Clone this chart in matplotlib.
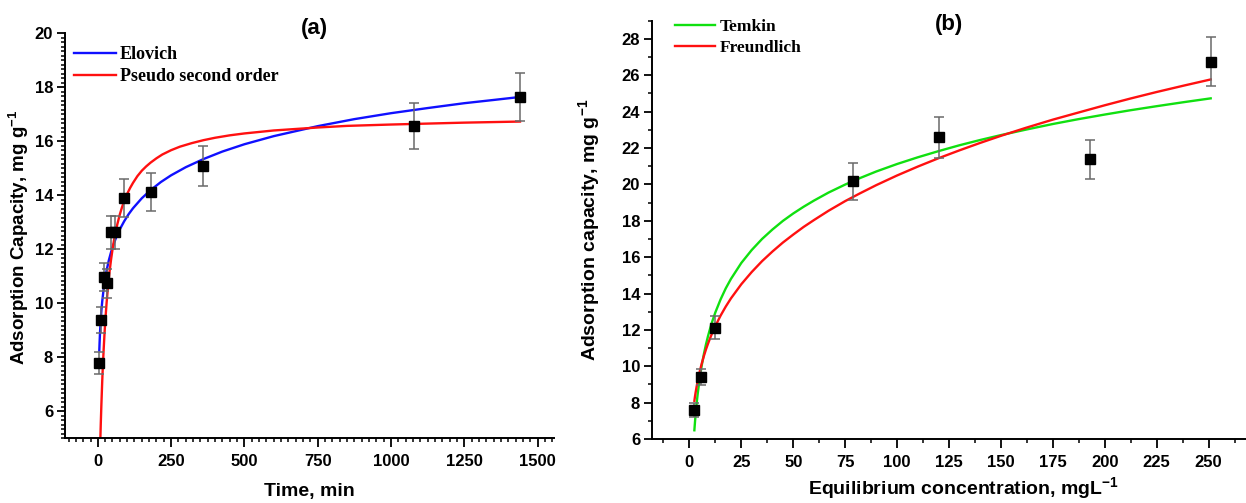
import matplotlib
matplotlib.use("Agg")
import matplotlib.pyplot as plt
from matplotlib.ticker import MultipleLocator

# ---------------- data: panel (a) kinetics ----------------
time_min = [5, 10, 20, 30, 45, 60, 90, 180, 360, 1080, 1440]
q_time = [7.78, 9.37, 10.95, 10.73, 12.62, 12.62, 13.89, 14.11, 15.08, 16.56, 17.63]
q_time_err = [0.40, 0.48, 0.52, 0.53, 0.62, 0.62, 0.70, 0.70, 0.74, 0.84, 0.89]

elovich_t = [5, 6, 7.5, 10, 12.5, 15, 20, 25, 30, 37.5, 45, 52, 60, 75, 90, 105, 120, 150,
             180, 215, 250, 300, 360, 425, 500, 600, 750, 875, 1000, 1125, 1250, 1350, 1440]
elovich_q = [8.24, 8.54, 8.92, 9.39, 9.76, 10.06, 10.54, 10.91, 11.21, 11.58, 11.88, 12.12,
             12.36, 12.73, 13.03, 13.29, 13.51, 13.88, 14.18, 14.48, 14.73, 15.03, 15.33,
             15.61, 15.88, 16.18, 16.55, 16.81, 17.03, 17.22, 17.40, 17.52, 17.63]

pso_t = [8.7, 9.3, 10, 12, 15, 17, 20, 22.5, 25, 27, 30, 35, 40, 45, 50, 55, 60, 67, 75, 82,
         90, 100, 110, 120, 135, 150, 165, 180, 200, 220, 250, 280, 320, 360, 400, 450, 500,
         600, 750, 850, 1000, 1250, 1440]
pso_q = [5.00, 5.24, 5.51, 6.20, 7.11, 7.63, 8.31, 8.81, 9.26, 9.58, 10.02, 10.64, 11.16,
         11.60, 11.98, 12.31, 12.59, 12.94, 13.28, 13.53, 13.78, 14.04, 14.26, 14.45, 14.70,
         14.90, 15.06, 15.20, 15.36, 15.50, 15.66, 15.79, 15.92, 16.03, 16.12, 16.21, 16.28,
         16.39, 16.50, 16.56, 16.61, 16.68, 16.72]

# ---------------- data: panel (b) isotherms ----------------
conc = [2.3, 5.6, 12.5, 78.7, 120.2, 192.7, 251.2]
q_eq = [7.60, 9.41, 12.13, 20.17, 22.59, 21.38, 26.75]
q_eq_err = [0.37, 0.43, 0.62, 1.03, 1.14, 1.07, 1.35]

curve_c = [2.4, 2.7, 3, 3.5, 4, 5, 6, 7, 8, 9, 10, 11, 12.5, 15, 17.5, 20, 25, 30, 35, 40,
           45, 50, 55, 60, 67, 75, 82, 90, 100, 110, 120, 130, 140, 150, 162, 175, 187, 200,
           212, 225, 238, 251]
temkin_q = [6.48, 6.94, 7.36, 7.96, 8.48, 9.36, 10.08, 10.68, 11.21, 11.67, 12.08, 12.46,
            12.96, 13.67, 14.28, 14.80, 15.68, 16.39, 17.00, 17.52, 17.99, 18.40, 18.77,
            19.11, 19.55, 19.99, 20.34, 20.71, 21.12, 21.49, 21.83, 22.15, 22.44, 22.71,
            23.01, 23.32, 23.58, 23.84, 24.07, 24.30, 24.52, 24.73]
freundlich_q = [8.10, 8.34, 8.56, 8.89, 9.19, 9.72, 10.17, 10.57, 10.93, 11.25, 11.55, 11.83,
                12.21, 12.78, 13.28, 13.73, 14.51, 15.18, 15.78, 16.31, 16.80, 17.24, 17.66,
                18.04, 18.55, 19.08, 19.50, 19.96, 20.49, 20.98, 21.44, 21.87, 22.28, 22.67,
                23.11, 23.56, 23.94, 24.35, 24.71, 25.08, 25.43, 25.77]

x_ticks_a = [0, 250, 500, 750, 1000, 1250, 1500]
y_ticks_a = [6, 8, 10, 12, 14, 16, 18, 20]
x_ticks_b = [0, 25, 50, 75, 100, 125, 150, 175, 200, 225, 250]
y_ticks_b = [6, 8, 10, 12, 14, 16, 18, 20, 22, 24, 26, 28]

# ---------------- style ----------------
plt.rcParams['font.family'] = ['Liberation Sans', 'DejaVu Sans']
plt.rcParams['font.weight'] = 'bold'
plt.rcParams['mathtext.default'] = 'regular'

W, H = 1246, 503
fig = plt.figure(figsize=(W / 100, H / 100), dpi=100)

def px_axes(l, t, r, b):
    return fig.add_axes([l / W, 1 - b / H, (r - l) / W, (b - t) / H])

ax1 = px_axes(65, 33, 554, 438)
ax2 = px_axes(652, 20.7, 1246, 439)

for ax in (ax1, ax2):
    ax.spines['top'].set_visible(False)
    ax.spines['right'].set_visible(False)
    for s in ('left', 'bottom'):
        ax.spines[s].set_linewidth(1.4)
    ax.tick_params(which='major', direction='out', length=5.5, width=1.3,
                   labelsize=12, pad=3)
    ax.tick_params(which='minor', direction='out', length=3, width=1.1)
    ax.tick_params(axis='x', which='major', length=6.5, pad=5)

err_kw = dict(fmt='s', color='black', markersize=7, ecolor='#6a6a6a',
              elinewidth=1.1, capsize=3.5, capthick=1.1, zorder=3)

# ---------------- panel (a) ----------------
ax1.plot(elovich_t, elovich_q, color='#1010ff', lw=1.7, label='Elovich', zorder=2)
ax1.plot(pso_t, pso_q, color='#ff1010', lw=1.7, label='Pseudo second order', zorder=2)
ax1.errorbar(time_min, q_time, yerr=q_time_err, **err_kw)
ax1.set_xlim(-112, 1556)
ax1.set_ylim(5, 20)
ax1.set_xticks(x_ticks_a)
ax1.set_yticks(y_ticks_a)
ax1.xaxis.set_minor_locator(MultipleLocator(25))
ax1.yaxis.set_minor_locator(MultipleLocator(2 / 12))
ax1.set_xlabel('Time, min', fontsize=14, fontweight='bold', va='center')
ax1.xaxis.set_label_coords(0.5, -0.133)
ax1.set_ylabel('Adsorption Capacity, mg g$^{-1}$', fontsize=13.5, fontweight='bold',
               va='center')
ax1.yaxis.set_label_coords(-0.094, 0.495)
ax1.text(0.511, 1.01, '(a)', transform=ax1.transAxes, ha='center', va='center',
         fontsize=16, fontweight='bold')
ax1.legend(loc='upper left', bbox_to_anchor=(0.0184, 0.968), frameon=False,
           borderpad=0, borderaxespad=0, handlelength=2.3, handletextpad=0.25,
           labelspacing=0.3, prop={'family': 'Liberation Serif', 'weight': 'bold',
                                   'size': 13})

# ---------------- panel (b) ----------------
ax2.plot(curve_c, temkin_q, color='#10e010', lw=1.7, label='Temkin', zorder=2)
ax2.plot(curve_c, freundlich_q, color='#ff1010', lw=1.7, label='Freundlich', zorder=2)
ax2.errorbar(conc, q_eq, yerr=q_eq_err, **err_kw)
ax2.set_xlim(-18, 268)
ax2.set_ylim(6, 29)
ax2.set_xticks(x_ticks_b)
ax2.set_yticks(y_ticks_b)
ax2.xaxis.set_minor_locator(MultipleLocator(12.5))
ax2.yaxis.set_minor_locator(MultipleLocator(1))
ax2.set_xlabel('Equilibrium concentration, mgL$^{-1}$', fontsize=14, fontweight='bold',
               va='center')
ax2.xaxis.set_label_coords(0.525, -0.117)
ax2.set_ylabel('Adsorption capacity, mg g$^{-1}$', fontsize=14, fontweight='bold',
               va='center')
ax2.yaxis.set_label_coords(-0.106, 0.5)
ax2.text(0.5, 0.99, '(b)', transform=ax2.transAxes, ha='center', va='center',
         fontsize=16, fontweight='bold')
ax2.legend(loc='upper left', bbox_to_anchor=(0.0387, 1.004), frameon=False,
           borderpad=0, borderaxespad=0, handlelength=2.3, handletextpad=0.25,
           labelspacing=0.25, prop={'family': 'Liberation Serif', 'weight': 'bold',
                                    'size': 12.5})

for ax in (ax1, ax2):
    for lab in ax.get_xticklabels() + ax.get_yticklabels():
        lab.set_fontweight('bold')

fig.savefig('out.png', dpi=100)
